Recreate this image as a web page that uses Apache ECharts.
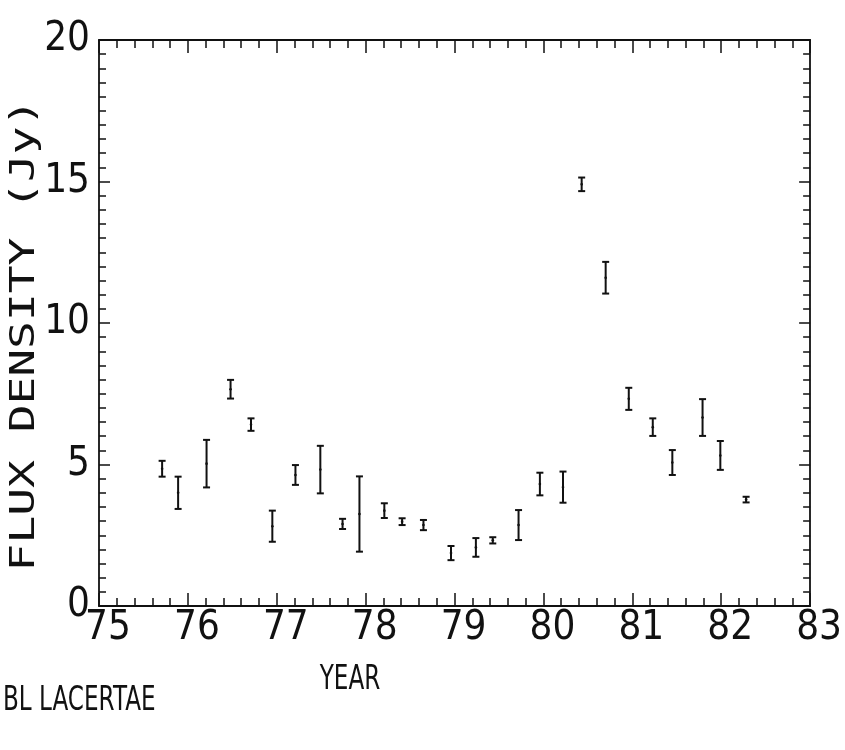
<!DOCTYPE html>
<html>
<head>
<meta charset="utf-8">
<script src="https://cdn.jsdelivr.net/npm/echarts@6/dist/echarts.min.js"></script>
<style>
  html, body { margin: 0; padding: 0; background: #fff; }
  #chart { width: 845px; height: 750px; }
</style>
</head>
<body>
<div id="chart"></div>
<script>
// observation epochs (year - 1900)
const years = [75.71, 75.89, 76.21, 76.48, 76.71, 76.95, 77.21, 77.49, 77.74, 77.93,
  78.21, 78.41, 78.65, 78.96, 79.24, 79.43, 79.72, 79.96, 80.22, 80.43,
  80.70, 80.96, 81.23, 81.45, 81.79, 81.99, 82.28];
// flux density (Jy)
const flux = [4.85, 4.00, 5.03, 7.66, 6.41, 2.82, 4.63, 4.82, 2.90, 3.25,
  3.37, 2.98, 2.86, 1.87, 2.07, 2.32, 2.86, 4.31, 4.20, 14.90,
  11.60, 7.32, 6.32, 5.07, 6.66, 5.32, 3.76];
// half length of the error bars (Jy)
const errs = [0.28, 0.57, 0.84, 0.33, 0.22, 0.55, 0.35, 0.84, 0.18, 1.33,
  0.26, 0.12, 0.18, 0.25, 0.33, 0.11, 0.53, 0.40, 0.55, 0.24,
  0.56, 0.39, 0.31, 0.44, 0.65, 0.51, 0.10];

const ink = '#111';
const numFont = '"DejaVu Sans", sans-serif';

const chart = echarts.init(document.getElementById('chart'), null, { renderer: 'canvas' });

const tickStyle = { show: true, inside: true, length: 13, lineStyle: { color: ink, width: 1.5 } };
const minorX = { show: true, splitNumber: 5, length: 8, lineStyle: { color: ink, width: 1.5 } };
const minorY = { show: true, splitNumber: 10, length: 7, lineStyle: { color: ink, width: 1.5 } };
const lineStyle = { show: true, onZero: false, lineStyle: { color: ink, width: 1.8 } };
// thin narrow digits like the plotter lettering
const labelStyle = { color: ink, fontFamily: numFont, fontWeight: 'condensed', fontSize: 40 };

chart.setOption({
  animation: false,
  backgroundColor: '#fff',
  grid: { left: 99, top: 40, right: 34, bottom: 144 },
  xAxis: [{
    type: 'value', min: 75, max: 83, interval: 1, position: 'bottom',
    axisLine: lineStyle, axisTick: tickStyle, minorTick: minorX,
    splitLine: { show: false },
    axisLabel: { ...labelStyle, margin: 3, padding: [0, 0, 0, 18] }
  }, {
    type: 'value', min: 75, max: 83, interval: 1, position: 'top',
    axisLine: lineStyle, axisTick: tickStyle, minorTick: minorX,
    splitLine: { show: false }, axisLabel: { show: false }
  }],
  yAxis: [{
    type: 'value', min: 0, max: 20, interval: 5, position: 'left',
    axisLine: lineStyle, axisTick: { ...tickStyle, length: 11 }, minorTick: minorY,
    splitLine: { show: false },
    axisLabel: { ...labelStyle, margin: 9, padding: [0, 0, 28, 0] }
  }, {
    type: 'value', min: 0, max: 20, interval: 5, position: 'right',
    axisLine: lineStyle, axisTick: { ...tickStyle, length: 11 }, minorTick: minorY,
    splitLine: { show: false }, axisLabel: { show: false }
  }],
  graphic: [
    {
      type: 'text', x: 25, y: 335, rotation: Math.PI / 2, scaleX: 1.4,
      style: { text: 'FLUX DENSITY (Jy)', fill: ink, font: '33px "DejaVu Sans Mono", monospace',
        align: 'center', verticalAlign: 'middle' }
    },
    {
      type: 'text', x: 350, y: 680, scaleX: 0.7,
      style: { text: 'YEAR', fill: ink, font: '33px ' + numFont, align: 'center', verticalAlign: 'middle' }
    },
    {
      type: 'text', x: 3, y: 701, scaleX: 0.7,
      style: { text: 'BL LACERTAE', fill: ink, font: '33px ' + numFont, align: 'left', verticalAlign: 'middle' }
    }
  ],
  series: [{
    type: 'custom',
    xAxisIndex: 0, yAxisIndex: 0,
    data: years.map((x, i) => [x, flux[i], errs[i]]),
    renderItem: function (params, api) {
      const x = api.value(0), y = api.value(1), e = api.value(2);
      const hi = api.coord([x, y + e]);
      const lo = api.coord([x, y - e]);
      const c = api.coord([x, y]);
      const w = 3.5;
      const st = { stroke: ink, lineWidth: 2 };
      return {
        type: 'group',
        children: [
          { type: 'line', shape: { x1: hi[0], y1: hi[1], x2: lo[0], y2: lo[1] }, style: st },
          { type: 'line', shape: { x1: hi[0] - w, y1: hi[1], x2: hi[0] + w, y2: hi[1] }, style: st },
          { type: 'line', shape: { x1: lo[0] - w, y1: lo[1], x2: lo[0] + w, y2: lo[1] }, style: st },
          { type: 'circle', shape: { cx: c[0], cy: c[1], r: 1.3 }, style: { fill: ink } }
        ]
      };
    }
  }]
});
</script>
</body>
</html>
